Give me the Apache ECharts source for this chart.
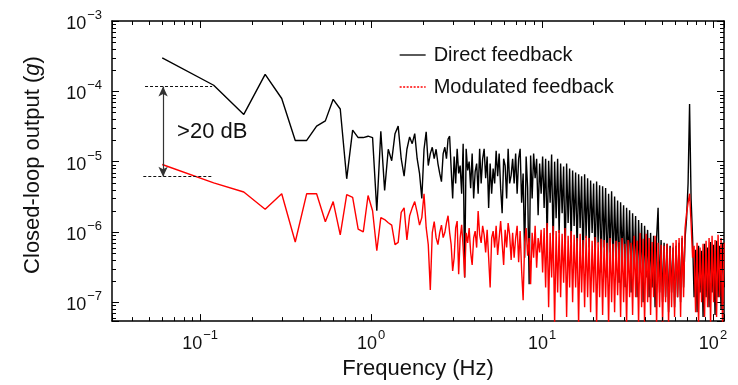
<!DOCTYPE html>
<html><head><meta charset="utf-8">
<script src="https://cdn.jsdelivr.net/npm/echarts@6/dist/echarts.min.js"></script>
<style>html,body{margin:0;padding:0;background:#fff}#c{width:738px;height:385px}</style>
</head><body><div id="c"></div>
<script>
const FONT = '"Liberation Sans", Arial, sans-serif';

// FFT bins (Hz) of the low-frequency part
const freqLow = [0.06,0.12,0.18,0.24,0.30,0.36,0.42,0.48,0.54,0.60,0.66,0.72,0.78,0.84,0.90,0.96,1.02,1.08,1.14,1.20,
  1.26,1.32,1.38,1.44,1.50,1.56,1.62,1.68,1.74,1.80,1.86,1.92,1.98,2.04,2.10,2.16,2.22,2.28,2.34,2.40,
  2.46,2.52,2.58,2.64,2.70,2.76,2.82,2.88,2.94,3.00];
// Closed-loop output (g), direct feedback, low band
const directLow = [3.0e-4,1.22e-4,4.7e-5,1.74e-4,7.9e-5,2.0e-5,2.0e-5,3.2e-5,3.8e-5,7.7e-5,
  5.6e-5,5.7e-6,2.8e-5,2.2e-5,2.2e-5,2.3e-5,2.2e-5,2.0e-6,2.7e-5,3.9e-6,
  1.5e-5,1.03e-5,2.5e-5,3.2e-5,1.1e-5,6.2e-6,1.5e-5,2.25e-5,1.8e-5,2.5e-5,
  1.1e-5,6.8e-6,3.0e-6,1.5e-5,2.65e-5,8.8e-6,1.3e-5,1.6e-5,1.1e-5,1.5e-5,
  9.4e-6,6.8e-6,5.2e-6,1.3e-5,1.6e-5,1.1e-5,2.1e-5,2.3e-5,8.0e-6,3.0e-6];
// Closed-loop output (g), modulated feedback, low band
const modulatedLow = [9.1e-6,5.0e-6,3.7e-6,2.1e-6,3.5e-6,7.2e-7,3.5e-6,3.5e-6,1.4e-6,2.7e-6,
  9.1e-7,3.4e-6,3.1e-6,1.1e-6,1.0e-6,3.3e-6,2.0e-6,5.4e-7,1.6e-6,1.5e-6,
  1.35e-6,1.25e-6,6.6e-7,7.1e-7,1.9e-6,2.2e-6,7.7e-7,1.7e-6,2.2e-6,2.7e-6,
  1.9e-6,1.25e-6,1.6e-6,3.5e-6,1.15e-6,6.6e-7,1.5e-7,9.8e-7,1.4e-6,8.3e-7,
  6.6e-7,9.8e-7,1.25e-6,8.3e-7,9.8e-7,1.35e-6,1.7e-6,9.8e-7,6.6e-7,2.8e-7];

// decimated (log-spaced, 114 per decade) frequency grid above 3 Hz
const freqHigh = Array.from({length: 181}, (_, j) => 3 * Math.pow(10, (j + 1) / 114));
const directHigh = [
  1.18e-5,4.9e-6,1.52e-5,6.8e-6,8.8e-6,3.5e-6,1.79e-5,2.25e-7,1.52e-5,7.5e-6,
  1.0e-5,4.2e-6,1.3e-5,3.0e-6,7.2e-6,9.4e-6,3.5e-6,1.52e-5,4.9e-6,1.1e-5,
  1.52e-5,5.8e-6,1.18e-5,2.2e-6,9.4e-6,3.5e-6,8.0e-6,4.9e-6,1.43e-5,6.2e-6,
  1.3e-5,4.2e-6,1.85e-6,1.1e-5,8.8e-6,3.0e-6,1.52e-5,4.9e-6,6.4e-6,1.1e-5,
  4.9e-6,1.3e-5,3.5e-6,1.1e-5,1.52e-5,2.6e-6,6.8e-6,4.3e-7,1.18e-5,4.2e-6,
  1.8e-7,1.22e-5,3.0e-6,1.3e-5,5.8e-6,1.1e-5,1.73e-6,9.4e-6,3.5e-6,1.18e-5,
  2.2e-6,1.1e-5,8.2e-7,1.03e-5,2.6e-6,1.26e-5,6.0e-7,1.0e-5,1.57e-6,1.1e-5,
  9.7e-7,9.4e-6,1.85e-6,8.5e-6,4.3e-7,9.4e-6,1.34e-6,8.0e-6,7.0e-7,7.5e-6,
  1.22e-6,7.0e-6,5.1e-7,6.6e-6,1.14e-6,6.2e-6,3.1e-7,6.6e-6,8.2e-7,5.8e-6,
  6.0e-7,5.4e-6,9.7e-7,4.9e-6,3.7e-7,5.2e-6,7.0e-7,4.6e-6,2.65e-7,4.45e-6,
  6.0e-7,4.2e-6,2.25e-7,3.5e-6,5.1e-7,3.8e-6,3.1e-7,3.2e-6,4.3e-7,2.8e-6,
  1.9e-7,2.65e-6,4.3e-7,2.4e-6,1.63e-7,2.2e-6,3.7e-7,2.04e-6,1.38e-7,1.85e-6,
  3.1e-7,1.68e-6,1.18e-7,1.48e-6,2.65e-7,1.34e-6,1.0e-7,1.22e-6,2.25e-7,1.07e-6,
  1.18e-7,9.7e-7,1.63e-7,8.8e-7,8.5e-8,8.2e-7,2.2e-6,1.38e-7,7.7e-7,1.0e-7,
  7.0e-7,1.18e-7,6.8e-7,7.2e-8,6.35e-7,1.38e-7,6.0e-7,8.5e-8,6.35e-7,1.18e-7,
  7.0e-7,1.0e-7,8.2e-7,1.63e-7,8.2e-7,1.57e-6,4.9e-6,6.6e-5,3.0e-6,8.2e-7,
  1.18e-7,5.6e-7,7.2e-8,6.35e-7,1.38e-7,5.4e-7,6.2e-8,6.8e-7,1.18e-7,6.0e-7,
  8.5e-8,7.2e-7,1.38e-7,6.6e-7,6.6e-8,7.5e-7,1.18e-7,6.35e-7,8.0e-8,7.0e-7,1.63e-7];
const modulatedHigh = [
  4.3e-7,1.14e-6,1.43e-6,2.5e-7,8.2e-7,1.26e-6,6.0e-7,2.25e-7,9.7e-7,7.0e-7,
  1.14e-6,5.1e-7,3.4e-7,8.2e-7,1.03e-6,6.0e-7,1.98e-6,9.1e-7,7.0e-7,1.22e-6,
  9.1e-7,5.1e-7,1.07e-6,4.3e-7,1.63e-7,8.2e-7,1.03e-6,6.0e-7,1.22e-6,4.7e-7,
  4.7e-7,1.43e-6,7.0e-7,3.4e-7,1.07e-6,6.0e-7,1.34e-6,9.1e-7,4.0e-7,9.7e-7,
  4.3e-7,8.2e-7,1.22e-6,3.7e-7,1.03e-6,2.8e-7,1.07e-7,7.0e-7,1.14e-6,4.6e-7,
  8.2e-7,1.8e-7,9.7e-7,4.3e-7,1.22e-6,3.1e-7,8.2e-7,5.1e-7,1.07e-6,2.65e-7,
  1.14e-6,1.63e-7,1.34e-6,8.5e-8,9.7e-7,2.25e-7,1.22e-6,4.8e-8,1.03e-6,1.38e-7,
  1.07e-6,1.18e-7,9.4e-7,1.9e-7,1.14e-6,6.2e-8,8.8e-7,1.63e-7,1.03e-6,1.0e-7,
  9.1e-7,1.63e-7,8.2e-7,4.8e-8,9.4e-7,1.38e-7,7.7e-7,8.5e-8,8.8e-7,1.18e-7,
  8.2e-7,7.2e-8,7.5e-7,1.38e-7,8.5e-7,4.8e-8,7.2e-7,1.18e-7,8.0e-7,6.6e-8,
  7.7e-7,1.18e-7,7.0e-7,4.8e-8,8.2e-7,1.0e-7,6.8e-7,7.2e-8,7.5e-7,1.26e-7,
  7.2e-7,6.2e-8,8.2e-7,1.0e-7,6.8e-7,4.8e-8,7.7e-7,1.18e-7,7.0e-7,6.6e-8,
  8.8e-7,1.18e-7,7.5e-7,4.8e-8,9.7e-7,8.5e-8,8.0e-7,4.8e-8,9.4e-7,1.0e-7,
  8.2e-7,6.6e-8,7.2e-7,1.18e-7,8.8e-7,4.8e-8,7.0e-7,8.5e-8,6.6e-7,4.8e-8,
  6.35e-7,1.0e-7,6.8e-7,4.8e-8,6.0e-7,8.5e-8,7.0e-7,6.2e-8,7.7e-7,1.18e-7,
  8.2e-7,6.2e-8,8.8e-7,1.18e-7,1.14e-6,1.85e-6,2.6e-6,3.5e-6,1.34e-6,4.3e-7,
  6.35e-7,7.2e-8,7.0e-7,4.8e-8,6.0e-7,1.0e-7,6.8e-7,6.2e-8,7.5e-7,8.5e-8,
  8.2e-7,4.8e-8,8.8e-7,1.0e-7,7.7e-7,6.2e-8,9.1e-7,1.18e-7,8.2e-7,4.8e-8,7.0e-7];

const seriesNames = ['Direct feedback', 'Modulated feedback'];
const xTickExps = [-1, 0, 1, 2];
const yTickExps = [-7, -6, -5, -4, -3];
const xRange = [0.0305, 116];
const yRange = [5.4e-8, 1e-3];
// >20 dB annotation levels (g) and frequencies (Hz)
const annTop = 1.17e-4, annBottom = 6.1e-6, annArrowF = 0.0607, annLineF = [0.0465, 0.1175];

const freqs = freqLow.concat(freqHigh);
const direct = directLow.concat(directHigh);
const modulated = modulatedLow.concat(modulatedHigh);

function sci(v, exps) {
  const l = Math.log10(v), e = Math.round(l);
  if (Math.abs(l - e) > 1e-6 || exps.indexOf(e) < 0) return '';
  return '{b|10}{s|' + (e < 0 ? '\u2212' : '') + Math.abs(e) + '}';
}
const rich = {
  b: {fontSize: 18, fontFamily: FONT, color: '#111', lineHeight: 24, verticalAlign: 'bottom'},
  s: {fontSize: 13, fontFamily: FONT, color: '#111', lineHeight: 13, verticalAlign: 'top', padding: [0, 0, 0, 1]}
};

// minor tick values 2..9 x 10^e
const minor = [];
for (let e = -3; e <= 2; e++) for (let m = 2; m <= 9; m++) {
  const v = m * Math.pow(10, e);
  if (v > xRange[0] && v < xRange[1]) minor.push([v, yRange[1], 0]);
}
for (let e = -8; e <= -4; e++) for (let m = 2; m <= 9; m++) {
  const v = m * Math.pow(10, e);
  if (v > yRange[0] && v < yRange[1]) minor.push([xRange[0], v, 1]);
}

const axisLine = {show: true, lineStyle: {color: '#000', width: 1.5}};
const tick = {show: true, inside: true, length: 7, lineStyle: {color: '#000', width: 1}};

const chart = echarts.init(document.getElementById('c'), null, {renderer: 'canvas'});
chart.setOption({
  animation: false,
  backgroundColor: '#fff',
  grid: {left: 112, right: 14, top: 21, bottom: 61, containLabel: false},
  legend: {
    orient: 'vertical', left: 394, top: 40, itemGap: 12, itemWidth: 26, itemHeight: 12,
    itemStyle: {opacity: 0},
    textStyle: {fontSize: 20, color: '#111', fontFamily: FONT, padding: [0, 0, 0, 3]},
    data: [{name: seriesNames[0], lineStyle: {width: 1.3}},
           {name: seriesNames[1], lineStyle: {type: [2, 1.5], width: 1.3}}]
  },
  xAxis: [
    {type: 'log', logBase: 10, min: xRange[0], max: xRange[1], position: 'bottom',
     axisLine, axisTick: tick, splitLine: {show: false},
     axisLabel: {margin: 8, formatter: v => sci(v, xTickExps), rich},
     name: 'Frequency (Hz)', nameLocation: 'middle', nameGap: 33,
     nameTextStyle: {fontSize: 22, fontFamily: FONT, color: '#111'}},
    {type: 'log', logBase: 10, min: xRange[0], max: xRange[1], position: 'top',
     axisLine, axisTick: tick, splitLine: {show: false}, axisLabel: {show: false}}
  ],
  yAxis: [
    {type: 'log', logBase: 10, min: yRange[0], max: yRange[1], position: 'left',
     axisLine, axisTick: tick, splitLine: {show: false},
     axisLabel: {margin: 10, formatter: v => sci(v, yTickExps), rich},
     name: '{a|Closed-loop output (}{i|g}{a|)}', nameLocation: 'middle', nameGap: 68,
     nameTextStyle: {padding: [0, 0, 0, 12],
                     rich: {a: {fontSize: 22, fontFamily: FONT, color: '#111'},
                            i: {fontSize: 22, fontFamily: FONT, color: '#111', fontStyle: 'italic'}}}},
    {type: 'log', logBase: 10, min: yRange[0], max: yRange[1], position: 'right',
     axisLine, axisTick: tick, splitLine: {show: false}, axisLabel: {show: false}}
  ],
  series: [
    {name: seriesNames[0], type: 'line', symbol: 'none', color: '#000',
     lineStyle: {color: '#000', width: 1.4},
     data: freqs.map((f, i) => [f, direct[i]]),
     markLine: {
       silent: true, animation: false, symbol: ['none', 'none'], label: {show: false},
       lineStyle: {color: '#111', width: 1, type: [3, 2]},
       data: [
         [{coord: [annLineF[0] + 0.0011, annTop]}, {coord: [annLineF[1], annTop]}],
         [{coord: [annLineF[0], annBottom]}, {coord: [annLineF[1], annBottom]}],
         [{coord: [annArrowF, annTop], symbol: 'arrow', symbolSize: [7, 10],
           lineStyle: {type: 'solid', color: '#333', width: 1.2}},
          {coord: [annArrowF, annBottom], symbol: 'arrow', symbolSize: [7, 10]}]
       ]
     },
     markPoint: {
       silent: true, symbol: 'circle', symbolSize: 0,
       data: [{coord: [0.0733, 2.65e-5],
               label: {show: true, position: 'right', distance: 0, formatter: '>20 dB',
                       fontSize: 22, fontFamily: FONT, color: '#111'}}]
     }},
    {name: seriesNames[1], type: 'line', symbol: 'none', color: '#ff0000',
     lineStyle: {color: '#ff0000', width: 1.4},
     data: freqs.map((f, i) => [f, modulated[i]])},
    {type: 'custom', silent: true, clip: false, z: 5,
     data: minor,
     renderItem: (params, api) => {
       const cs = params.coordSys;
       const p = api.coord([api.value(0), api.value(1)]);
       const st = {stroke: '#000', lineWidth: 1};
       if (api.value(2) === 0) {
         const x = Math.round(p[0]) + 0.5;
         return {type: 'group', children: [
           {type: 'line', shape: {x1: x, y1: cs.y + cs.height, x2: x, y2: cs.y + cs.height - 4}, style: st},
           {type: 'line', shape: {x1: x, y1: cs.y, x2: x, y2: cs.y + 4}, style: st}]};
       }
       const y = Math.round(p[1]) + 0.5;
       return {type: 'group', children: [
         {type: 'line', shape: {x1: cs.x, y1: y, x2: cs.x + 4, y2: y}, style: st},
         {type: 'line', shape: {x1: cs.x + cs.width, y1: y, x2: cs.x + cs.width - 4, y2: y}, style: st}]};
     }}
  ]
});
</script></body></html>
